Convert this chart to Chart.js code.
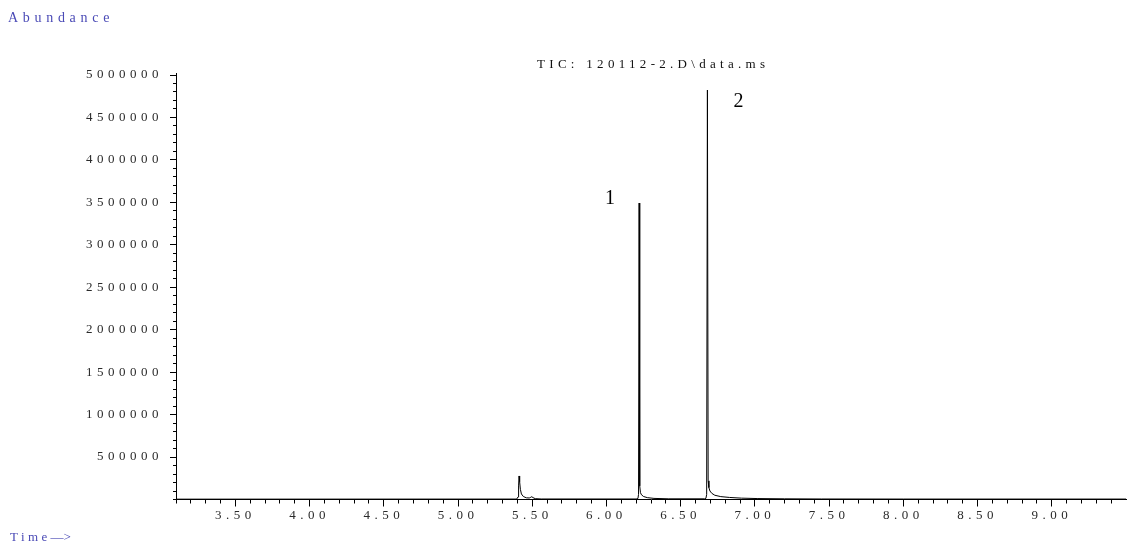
<!DOCTYPE html>
<html>
<head>
<meta charset="utf-8">
<script src="https://cdn.jsdelivr.net/npm/chart.js@4.4.1/dist/chart.umd.min.js"></script>
<style>
  html, body { margin: 0; padding: 0; background: #ffffff; }
  #wrap { width: 1127px; height: 546px; }
</style>
</head>
<body>
<div id="wrap"><canvas id="tic" width="1127" height="546"></canvas></div>
<script>
// Total ion chromatogram: retention time (min) and abundance
const retentionTimes = [
  3.10, 5.395, 5.404, 5.408, 5.411, 5.415, 5.420, 5.427, 5.440, 5.460,
  5.480, 5.490, 5.497, 5.505, 5.520, 5.560, 6.200, 6.212, 6.216, 6.220,
  6.224, 6.229, 6.236, 6.250, 6.275, 6.320, 6.420, 6.660, 6.670, 6.675,
  6.680, 6.685, 6.690, 6.697, 6.710, 6.730, 6.770, 6.830, 6.910, 7.020,
  7.200, 7.450, 8.000, 9.500
];
const abundances = [
  4000, 5000, 30000, 160000, 277000, 210000, 120000, 65000, 35000, 20000,
  18000, 26000, 33000, 22000, 10000, 6000, 6000, 12000, 60000, 3492000,
  160000, 80000, 55000, 35000, 22000, 13000, 8000, 8000, 14000, 60000,
  4823000, 220000, 140000, 100000, 72000, 50000, 34000, 24000, 16000, 11000,
  8000, 6000, 5000, 5000
];

// Axis tick labels
const xTickLabels = ['3.50', '4.00', '4.50', '5.00', '5.50', '6.00', '6.50', '7.00', '7.50', '8.00', '8.50', '9.00'];
const yTickLabels = ['500000', '1000000', '1500000', '2000000', '2500000', '3000000', '3500000', '4000000', '4500000', '5000000'];

// Peak numbers and where they sit (time, abundance)
const peakNumbers = ['1', '2'];
const peakNumberTimes = [6.024, 6.889];
const peakNumberAbundances = [3540000, 4680000];

const chartTitle = 'TIC: 120112-2.D\\data.ms';
const yAxisName = 'Abundance';
const xAxisName = 'Time';

const SERIF = '"Liberation Serif", "Times New Roman", serif';
const AXIS_BLUE = '#4a4ab6';

function isLabelledX(v) { return xTickLabels.includes(Number(v).toFixed(2)); }
function isLabelledY(v) { return yTickLabels.includes(String(Math.round(Number(v)))); }

const decor = {
  id: 'decor',
  beforeDraw(chart) {
    // wide spacing for the tick digits
    chart.ctx.letterSpacing = '4.5px';
  },
  afterDraw(chart) {
    const { ctx, chartArea: a, scales: { x, y } } = chart;
    ctx.save();
    ctx.letterSpacing = '0px';
    ctx.strokeStyle = '#000';
    ctx.lineWidth = 1;

    // longer marks at the labelled ticks, and the short stub above the value axis
    ctx.beginPath();
    x.ticks.forEach(t => {
      if (isLabelledX(t.value)) {
        const px = Math.round(x.getPixelForValue(t.value) - 0.5) + 0.5;
        ctx.moveTo(px, a.bottom);
        ctx.lineTo(px, a.bottom + 7);
      }
    });
    y.ticks.forEach(t => {
      if (isLabelledY(t.value)) {
        const py = Math.round(y.getPixelForValue(t.value) - 0.5) + 0.5;
        ctx.moveTo(a.left - 6, py);
        ctx.lineTo(a.left, py);
      }
    });
    const ax = Math.round(a.left - 0.5) + 0.5;
    ctx.moveTo(ax, a.top);
    ctx.lineTo(ax, a.top - 2);
    ctx.stroke();

    // peak numbers
    ctx.fillStyle = '#000';
    ctx.font = '20px ' + SERIF;
    ctx.textAlign = 'center';
    ctx.textBaseline = 'middle';
    peakNumbers.forEach((n, i) => {
      ctx.fillText(n, x.getPixelForValue(peakNumberTimes[i]), y.getPixelForValue(peakNumberAbundances[i]));
    });

    // title over the plot
    ctx.font = '13px ' + SERIF;
    ctx.letterSpacing = '4.3px';
    ctx.textAlign = 'center';
    ctx.textBaseline = 'alphabetic';
    ctx.fillStyle = '#111';
    ctx.fillText(chartTitle, (a.left + a.right) / 2 + 2.2, a.top - 7);

    // axis names
    ctx.fillStyle = AXIS_BLUE;
    ctx.textAlign = 'left';
    ctx.font = '14px ' + SERIF;
    ctx.letterSpacing = '4.7px';
    ctx.fillText(yAxisName, 8, 22);

    ctx.font = '13px ' + SERIF;
    ctx.letterSpacing = '3.4px';
    ctx.fillText(xAxisName, 10, 541);
    const w = ctx.measureText(xAxisName).width;
    ctx.letterSpacing = '0px';
    ctx.fillText('\u2014>', 10 + w, 541);
    ctx.restore();
  }
};

new Chart(document.getElementById('tic').getContext('2d'), {
  type: 'line',
  data: {
    datasets: [{
      data: retentionTimes.map((t, i) => ({ x: t, y: abundances[i] })),
      borderColor: '#000',
      borderWidth: 1,
      pointRadius: 0,
      tension: 0,
      fill: false
    }]
  },
  options: {
    responsive: false,
    animation: false,
    events: [],
    layout: { padding: { left: 0, right: 1, top: 75, bottom: 16.5 } },
    plugins: { legend: { display: false }, tooltip: { enabled: false }, title: { display: false } },
    scales: {
      x: {
        type: 'linear',
        min: 3.1,
        max: 9.5,
        afterBuildTicks(s) { s.ticks = s.ticks.filter(t => t.value < 9.45); },
        afterFit(s) { s.height = 30; },
        ticks: {
          stepSize: 0.1,
          autoSkip: false,
          maxRotation: 0,
          padding: 4,
          color: '#2a2a2a',
          font: { family: SERIF, size: 13 },
          callback(v) { return isLabelledX(v) ? Number(v).toFixed(2) : ''; }
        },
        grid: { drawOnChartArea: false, tickLength: 4, tickColor: '#000', color: '#000' },
        border: { color: '#000', width: 1 }
      },
      y: {
        type: 'linear',
        min: 0,
        max: 5000000,
        afterFit(s) { s.width = 176; },
        ticks: {
          stepSize: 100000,
          autoSkip: false,
          padding: 10,
          color: '#2a2a2a',
          font: { family: SERIF, size: 13 },
          callback(v) { return isLabelledY(v) ? String(Math.round(v)) : ''; }
        },
        grid: { drawOnChartArea: false, tickLength: 3, tickColor: '#000', color: '#000' },
        border: { color: '#000', width: 1 }
      }
    }
  },
  plugins: [decor]
});
</script>
</body>
</html>
